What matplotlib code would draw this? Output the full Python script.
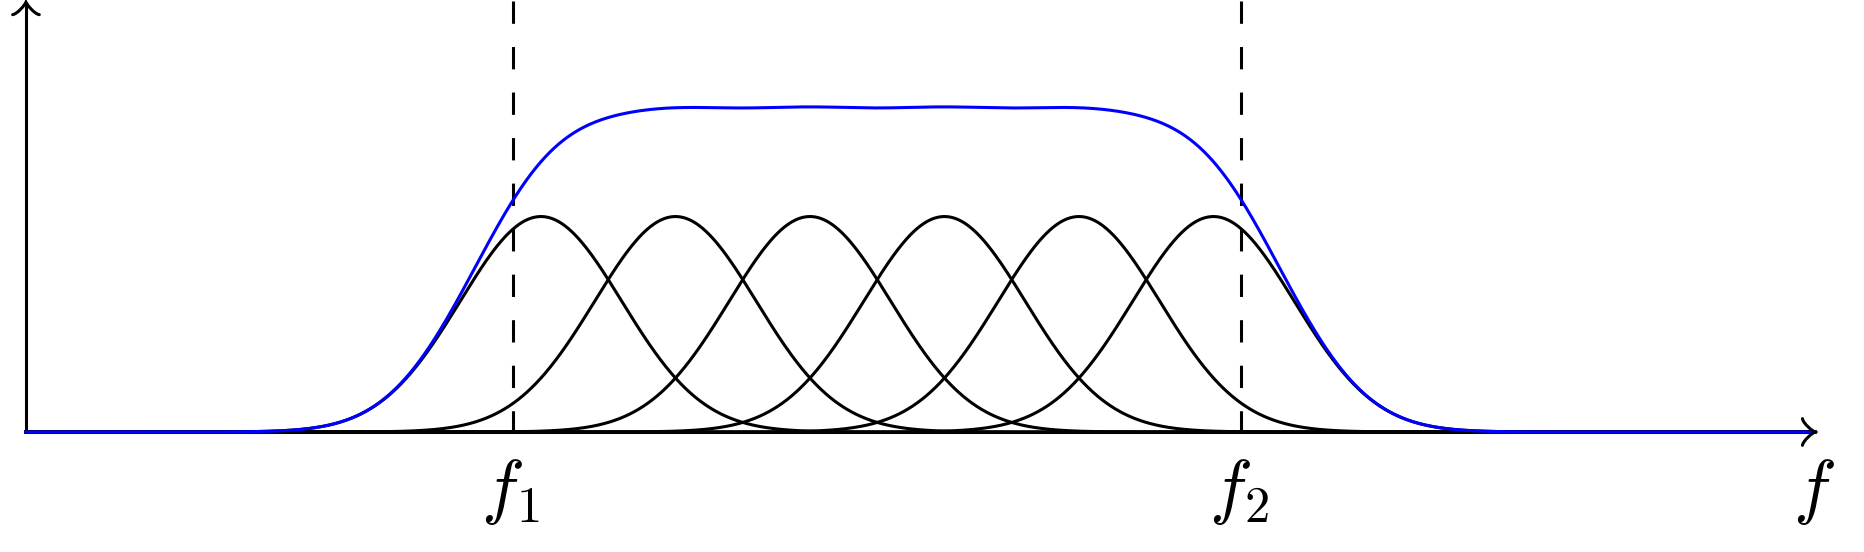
import numpy as np
import matplotlib.pyplot as plt
import matplotlib.transforms as mtransforms
from matplotlib.path import Path
from matplotlib.patches import PathPatch

# filter bank: centre of each band, common height and width (in band spacings)
centers = [1, 2, 3, 4, 5, 6]
height = 1.0
sigma = 0.601

# band edges and labels
edges = [0.792, 6.208]
edge_labels = [r'$f_1$', r'$f_2$']
axis_label = r'$f$'

x_start, x_end = -2.829, 10.472
y_top = 1.995

plt.rcParams['mathtext.fontset'] = 'cm'

fig = plt.figure(figsize=(18.65, 5.52), dpi=100)
ax = fig.add_axes([0, 0, 1, 1])
ax.set_xlim(-3.022, 10.844)
ax.set_ylim(-0.557, 2.005)
ax.axis('off')

lw = 2.2


def arrow_tip(x, y, angle, size=2.4):
    # tikz "to" style tip, size in points
    verts = np.array([(-3, 4), (-2.75, 2.5), (0, 0.25), (0.75, 0),
                      (0, -0.25), (-2.75, -2.5), (-3, -4)]) - [0.75, 0]
    codes = [Path.MOVETO] + [Path.CURVE4] * 6
    tr = (mtransforms.Affine2D().scale(size).rotate_deg(angle)
          + mtransforms.Affine2D().scale(fig.dpi / 72)
          + mtransforms.ScaledTranslation(x, y, ax.transData))
    ax.add_patch(PathPatch(Path(verts, codes), transform=tr, fill=False,
                           edgecolor='black', lw=lw, capstyle='round', zorder=5))


# axes
ax.plot([x_start, x_end], [0, 0], color='black', lw=lw, solid_capstyle='butt', zorder=1)
ax.plot([x_start, x_start], [0, y_top], color='black', lw=lw, solid_capstyle='butt', zorder=1)
arrow_tip(x_end, 0, 0)
arrow_tip(x_start, y_top, 90)

# band edges
for e, lab in zip(edges, edge_labels):
    line, = ax.plot([e, e], [2.0, 0], color='black', lw=lw, zorder=2)
    line.set_dashes((7.3, 7.6))
    ax.text(e - 0.02, -0.362, lab, ha='center', va='baseline', fontsize=52)
ax.text(x_end - 0.01, -0.362, axis_label, ha='center', va='baseline', fontsize=52)

# individual filters and their sum
x = np.linspace(x_start, x_end, 2000)
total = np.zeros_like(x)
for c in centers:
    g = height * np.exp(-(x - c) ** 2 / (2 * sigma ** 2))
    total += g
    ax.plot(x, g, color='black', lw=lw, zorder=3)

ax.plot(x, total, color='blue', lw=lw, zorder=4)

plt.savefig('out.png', dpi=100)
